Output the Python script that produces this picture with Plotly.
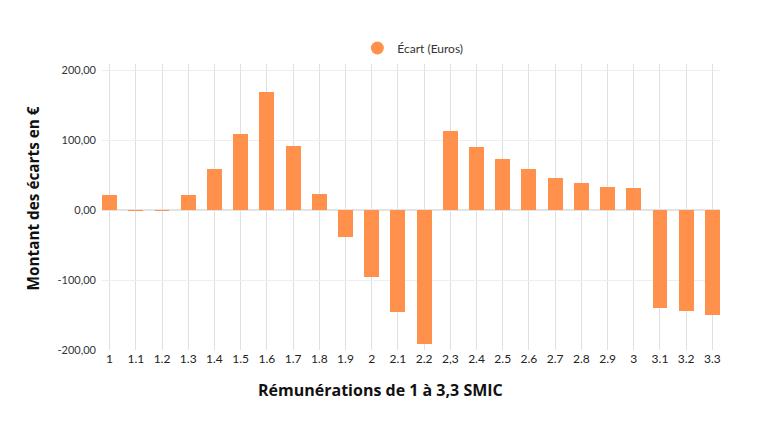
import plotly.graph_objects as go

categories = ["1", "1.1", "1.2", "1.3", "1.4", "1.5", "1.6", "1.7", "1.8", "1.9",
              "2", "2.1", "2.2", "2,3", "2.4", "2.5", "2.6", "2.7", "2.8", "2.9",
              "3", "3.1", "3.2", "3.3"]
ecart = [22, -1, -0.5, 22, 58, 108, 169, 91, 23, -38,
         -95.5, -146, -192, 113, 90, 73, 58, 46, 38, 33,
         31.5, -140, -144.5, -150]
y_ticks = [-200, -100, 0, 100, 200]
y_tick_labels = ["-200,00", "-100,00", "0,00", "100,00", "200,00"]

ORANGE = "#FF914D"
FONT = "Lato"
TITLE_FONT = "Open Sans"

idx = list(range(len(categories)))

fig = go.Figure()
fig.add_trace(go.Bar(x=idx, y=ecart, marker=dict(color=ORANGE, line=dict(width=0)),
                     width=0.57, showlegend=False, name="Écart (Euros)"))
fig.add_trace(go.Scatter(x=[None], y=[None], mode="markers", name="Écart (Euros)",
                         marker=dict(symbol="circle", size=13, color=ORANGE)))

fig.update_layout(
    width=760, height=428,
    margin=dict(l=94, r=48, t=56, b=86),
    paper_bgcolor="white", plot_bgcolor="white",
    font=dict(family=FONT, size=11, color="#333333"),
    bargap=0,
    legend=dict(orientation="h", x=0.503, xanchor="center", y=1.056, yanchor="middle",
                font=dict(size=12, color="#333333"), itemwidth=30),
    xaxis=dict(range=[-0.29, 23.29], tickmode="array", tickvals=idx, ticktext=categories,
               showgrid=True, gridcolor="#e0e0e0", gridwidth=1, zeroline=False,
               showline=False, ticks="", tickfont=dict(size=12, color="#222222")),
    yaxis=dict(range=[-200, 208.6], tickmode="array", tickvals=y_ticks, ticktext=y_tick_labels,
               showgrid=True, gridcolor="#eeeeee", gridwidth=1, zeroline=True,
               zerolinecolor="#e3e3e3", zerolinewidth=1.5, showline=False, ticks="",
               ticklabelstandoff=5, tickfont=dict(size=11, color="#333333")),
    annotations=[
        dict(text="<b>Montant des écarts en €</b>", xref="paper", yref="paper",
             x=-0.1117, y=0.53, xanchor="center", yanchor="middle", textangle=-90,
             showarrow=False, font=dict(size=15.3, color="#111111", family=TITLE_FONT)),
        dict(text="<b>Rémunérations de 1 à 3,3 SMIC</b>", xref="paper", yref="paper",
             x=0.45, y=-0.14, xanchor="center", yanchor="middle",
             showarrow=False, font=dict(size=16, color="#111111", family=TITLE_FONT)),
    ],
)

fig.write_html("out.html")
